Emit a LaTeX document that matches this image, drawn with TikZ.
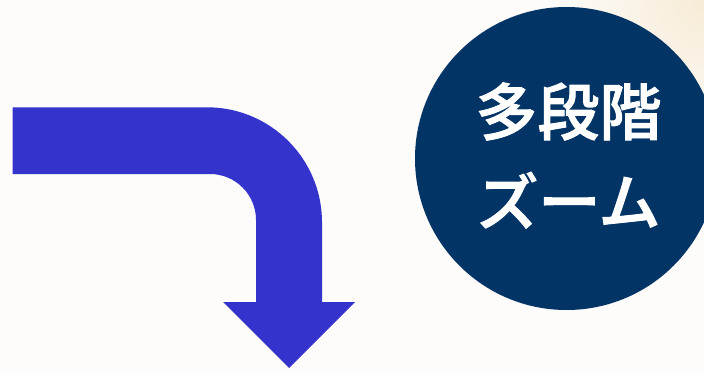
\documentclass[tikz,border=0pt]{standalone}
\usepackage{fontspec}
\newfontfamily\jpfont{Noto Sans CJK JP}[UprightFont=* Medium,FakeBold=1.5]
\usetikzlibrary{positioning}
\definecolor{paperBg}{HTML}{FDFCFA}
\definecolor{paperWarm}{HTML}{F7EBD6}
\definecolor{arrowBlue}{HTML}{3434CC}
\definecolor{badgeNavy}{HTML}{033466}
\tikzset{arrowStyle/.style={
    fill=arrowBlue,
    draw=none}
}
\tikzset{badgeStyle/.style={
    circle,
    fill=badgeNavy,
    minimum size=303pt,
    inner sep=0pt}
}
\tikzset{badgeText/.style={
    text=white,
    align=center,
    inner sep=0pt,
    font=\jpfont\fontsize{62}{90}\selectfont}
}

\begin{document}
\begin{tikzpicture}[x=1pt,y=1pt]
      \useasboundingbox (0,0) rectangle (704,373);
      \clip (0,0) rectangle (704,373);
      \fill[color=paperBg] (0,0) rectangle (704,373);
      %\fill[color=paperWarm] (704,373) circle (120);
      \shade[inner color=paperWarm, outer color=paperBg] (704,373) circle (150);

      % bent arrow
      \fill[arrowStyle]
      (12.7,265.7) -- (207,265.7)
      arc[start angle=90,end angle=0,radius=115]
      -- (322,71) -- (355,71) -- (289,5) -- (223,71) -- (256,71)
      -- (256,153)
      arc[start angle=0,end angle=90,radius=46]
      -- (12.7,199) -- cycle;

      \coordinate (badgeCenter) at (566.5,214.5);
      \node[badgeStyle] (badge) at (badgeCenter) {};
      \node[badgeText] (label) at ([xshift=2pt,yshift=3pt]badge.center)
      {多段階\\ズーム};
    \end{tikzpicture}
\end{document}
